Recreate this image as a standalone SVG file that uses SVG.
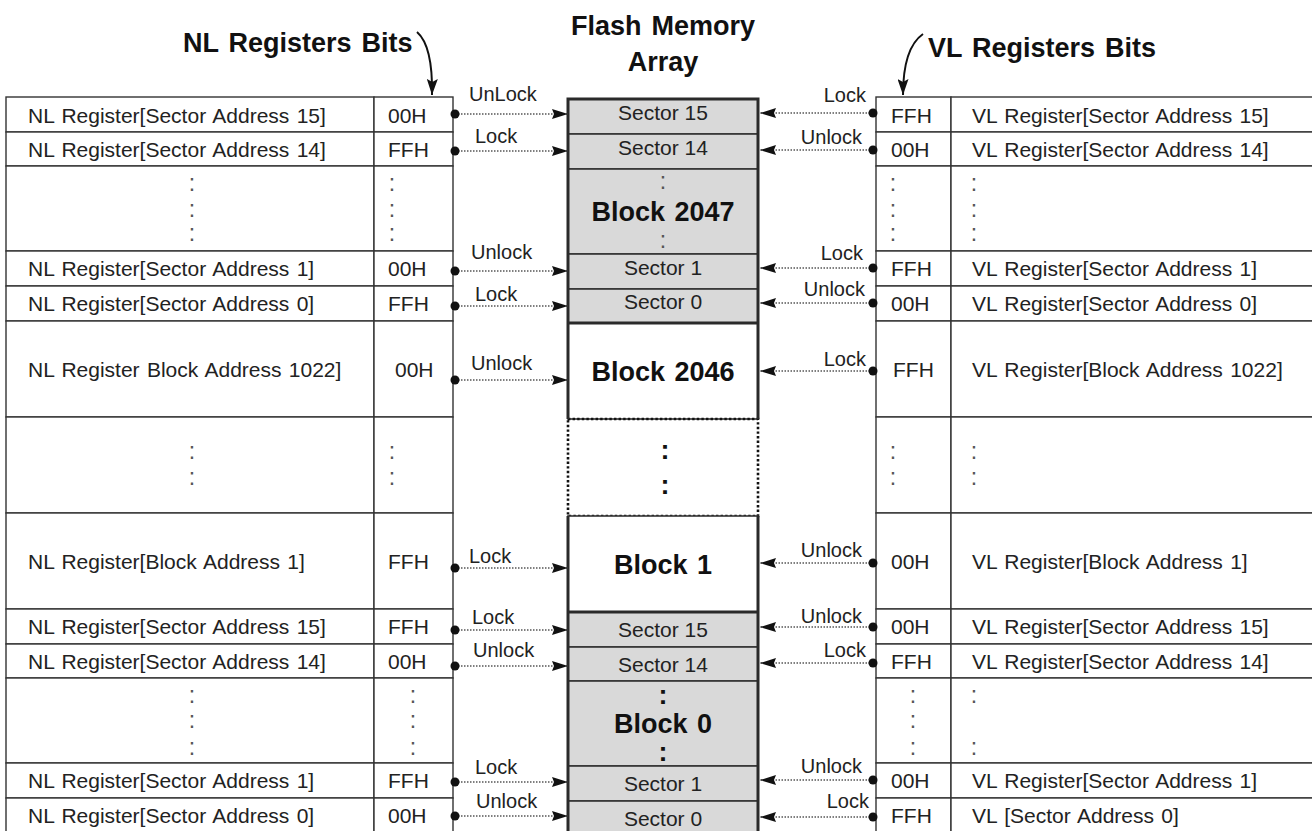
<svg xmlns="http://www.w3.org/2000/svg" width="1312" height="831" viewBox="0 0 1312 831">
<style>
  text { font-family: "Liberation Sans", Arial, Helvetica, sans-serif; fill: #222; }
  .reg { font-size: 21px; word-spacing: 1.5px; }
  .lbl { font-size: 20px; }
  .dots { font-size: 23px; fill: #555; text-anchor: middle; }
  .title { font-size: 27px; font-weight: bold; word-spacing: 2.5px; fill: #111; }
  .sec { font-size: 21px; text-anchor: middle; }
  .blk { font-size: 27px; font-weight: bold; text-anchor: middle; word-spacing: 2px; fill: #111; }
  .bdots { font-size: 27px; font-weight: bold; text-anchor: middle; fill: #111; }
  .cell { fill: #fff; stroke: #333; stroke-width: 1.4; }
  .gray { fill: #d9d9d9; stroke: #333; stroke-width: 1.6; }
  .white { fill: #fff; stroke: #333; stroke-width: 1.6; }
  .edge { fill: none; stroke: #2a2a2a; stroke-width: 3; }
  .dotted { fill: none; stroke: #111; stroke-width: 2.6; stroke-dasharray: 2.4 2.2; }
  .conn { fill: none; stroke: #555; stroke-width: 1.3; stroke-dasharray: 1.5 1.5; marker-start: url(#dot); marker-end: url(#arr); }
  .curve { fill: none; stroke: #111; stroke-width: 2; marker-end: url(#bigarr); }
</style>
<defs>
  <marker id="arr" markerUnits="userSpaceOnUse" viewBox="0 0 16 10" refX="16" refY="5" markerWidth="16" markerHeight="10" orient="auto">
    <path d="M0,0 L16,5 L0,10 L2,5 z" fill="#111"/>
  </marker>
  <marker id="dot" markerUnits="userSpaceOnUse" viewBox="0 0 10 10" refX="5" refY="5" markerWidth="10" markerHeight="10">
    <circle cx="5" cy="5" r="4.5" fill="#111"/>
  </marker>
  <marker id="bigarr" markerUnits="userSpaceOnUse" viewBox="0 0 16 11" refX="16" refY="5.5" markerWidth="16" markerHeight="11" orient="auto">
    <path d="M0,0 L16,5.5 L0,11 L3,5.5 z" fill="#111"/>
  </marker>
</defs>

<!-- Titles -->
<g id="title-nl">
  <text class="title" x="183" y="52">NL Registers Bits</text>
  <path class="curve" d="M417,32 Q433,46 432,95"/>
</g>
<g id="title-flash">
  <text class="title" x="663" y="35" text-anchor="middle" font-size="28">Flash Memory</text>
  <text class="title" x="663" y="71" text-anchor="middle" font-size="28">Array</text>
</g>
<g id="title-vl">
  <text class="title" x="928" y="57">VL Registers Bits</text>
  <path class="curve" d="M923,34 Q903,48 903,95"/>
</g>

<!-- Left table (NL registers) -->
<g id="nl-table">
  <g id="nl-r1"><rect class="cell" x="6" y="97" width="368" height="35"/><rect class="cell" x="374" y="97" width="79" height="35"/>
    <text class="reg" x="28" y="122.5">NL Register[Sector Address 15]</text><text class="reg" x="388" y="122.5">00H</text></g>
  <g id="nl-r2"><rect class="cell" x="6" y="132" width="368" height="34"/><rect class="cell" x="374" y="132" width="79" height="34"/>
    <text class="reg" x="28" y="156.5">NL Register[Sector Address 14]</text><text class="reg" x="388" y="156.5">FFH</text></g>
  <g id="nl-r3"><rect class="cell" x="6" y="166" width="368" height="85"/><rect class="cell" x="374" y="166" width="79" height="85"/>
    <text class="dots" x="192" y="191">:</text><text class="dots" x="192" y="217">:</text><text class="dots" x="192" y="241">:</text>
    <text class="dots" x="392" y="191">:</text><text class="dots" x="392" y="217">:</text><text class="dots" x="392" y="241">:</text></g>
  <g id="nl-r4"><rect class="cell" x="6" y="251" width="368" height="35"/><rect class="cell" x="374" y="251" width="79" height="35"/>
    <text class="reg" x="28" y="276">NL Register[Sector Address 1]</text><text class="reg" x="388" y="276">00H</text></g>
  <g id="nl-r5"><rect class="cell" x="6" y="286" width="368" height="35"/><rect class="cell" x="374" y="286" width="79" height="35"/>
    <text class="reg" x="28" y="310.5">NL Register[Sector Address 0]</text><text class="reg" x="388" y="310.5">FFH</text></g>
  <g id="nl-r6"><rect class="cell" x="6" y="321" width="368" height="96"/><rect class="cell" x="374" y="321" width="79" height="96"/>
    <text class="reg" x="28" y="377">NL Register Block Address 1022]</text><text class="reg" x="395" y="377">00H</text></g>
  <g id="nl-r7"><rect class="cell" x="6" y="417" width="368" height="96"/><rect class="cell" x="374" y="417" width="79" height="96"/>
    <text class="dots" x="192" y="459">:</text><text class="dots" x="192" y="485">:</text>
    <text class="dots" x="392" y="459">:</text><text class="dots" x="392" y="485">:</text></g>
  <g id="nl-r8"><rect class="cell" x="6" y="513" width="368" height="96"/><rect class="cell" x="374" y="513" width="79" height="96"/>
    <text class="reg" x="28" y="569">NL Register[Block Address 1]</text><text class="reg" x="388" y="569">FFH</text></g>
  <g id="nl-r9"><rect class="cell" x="6" y="609" width="368" height="35"/><rect class="cell" x="374" y="609" width="79" height="35"/>
    <text class="reg" x="28" y="634">NL Register[Sector Address 15]</text><text class="reg" x="388" y="634">FFH</text></g>
  <g id="nl-r10"><rect class="cell" x="6" y="644" width="368" height="34"/><rect class="cell" x="374" y="644" width="79" height="34"/>
    <text class="reg" x="28" y="668.5">NL Register[Sector Address 14]</text><text class="reg" x="388" y="668.5">00H</text></g>
  <g id="nl-r11"><rect class="cell" x="6" y="678" width="368" height="85"/><rect class="cell" x="374" y="678" width="79" height="85"/>
    <text class="dots" x="192" y="703">:</text><text class="dots" x="192" y="728">:</text><text class="dots" x="192" y="755">:</text>
    <text class="dots" x="413" y="703">:</text><text class="dots" x="413" y="728">:</text><text class="dots" x="413" y="755">:</text></g>
  <g id="nl-r12"><rect class="cell" x="6" y="763" width="368" height="35"/><rect class="cell" x="374" y="763" width="79" height="35"/>
    <text class="reg" x="28" y="788">NL Register[Sector Address 1]</text><text class="reg" x="388" y="788">FFH</text></g>
  <g id="nl-r13"><rect class="cell" x="6" y="798" width="368" height="40"/><rect class="cell" x="374" y="798" width="79" height="40"/>
    <text class="reg" x="28" y="822.5">NL Register[Sector Address 0]</text><text class="reg" x="388" y="822.5">00H</text></g>
</g>

<!-- Right table (VL registers) -->
<g id="vl-table">
  <g id="vl-r1"><rect class="cell" x="876" y="97" width="75" height="35"/><rect class="cell" x="951" y="97" width="370" height="35"/>
    <text class="reg" x="891" y="122.5">FFH</text><text class="reg" x="972" y="122.5">VL Register[Sector Address 15]</text></g>
  <g id="vl-r2"><rect class="cell" x="876" y="132" width="75" height="34"/><rect class="cell" x="951" y="132" width="370" height="34"/>
    <text class="reg" x="891" y="156.5">00H</text><text class="reg" x="972" y="156.5">VL Register[Sector Address 14]</text></g>
  <g id="vl-r3"><rect class="cell" x="876" y="166" width="75" height="85"/><rect class="cell" x="951" y="166" width="370" height="85"/>
    <text class="dots" x="893" y="191">:</text><text class="dots" x="893" y="217">:</text><text class="dots" x="893" y="241">:</text>
    <text class="dots" x="974" y="191">:</text><text class="dots" x="974" y="217">:</text><text class="dots" x="974" y="241">:</text></g>
  <g id="vl-r4"><rect class="cell" x="876" y="251" width="75" height="35"/><rect class="cell" x="951" y="251" width="370" height="35"/>
    <text class="reg" x="891" y="276">FFH</text><text class="reg" x="972" y="276">VL Register[Sector Address 1]</text></g>
  <g id="vl-r5"><rect class="cell" x="876" y="286" width="75" height="35"/><rect class="cell" x="951" y="286" width="370" height="35"/>
    <text class="reg" x="891" y="310.5">00H</text><text class="reg" x="972" y="310.5">VL Register[Sector Address 0]</text></g>
  <g id="vl-r6"><rect class="cell" x="876" y="321" width="75" height="96"/><rect class="cell" x="951" y="321" width="370" height="96"/>
    <text class="reg" x="893" y="377">FFH</text><text class="reg" x="972" y="377">VL Register[Block Address 1022]</text></g>
  <g id="vl-r7"><rect class="cell" x="876" y="417" width="75" height="96"/><rect class="cell" x="951" y="417" width="370" height="96"/>
    <text class="dots" x="893" y="459">:</text><text class="dots" x="893" y="485">:</text>
    <text class="dots" x="974" y="459">:</text><text class="dots" x="974" y="485">:</text></g>
  <g id="vl-r8"><rect class="cell" x="876" y="513" width="75" height="96"/><rect class="cell" x="951" y="513" width="370" height="96"/>
    <text class="reg" x="891" y="569">00H</text><text class="reg" x="972" y="569">VL Register[Block Address 1]</text></g>
  <g id="vl-r9"><rect class="cell" x="876" y="609" width="75" height="35"/><rect class="cell" x="951" y="609" width="370" height="35"/>
    <text class="reg" x="891" y="634">00H</text><text class="reg" x="972" y="634">VL Register[Sector Address 15]</text></g>
  <g id="vl-r10"><rect class="cell" x="876" y="644" width="75" height="34"/><rect class="cell" x="951" y="644" width="370" height="34"/>
    <text class="reg" x="891" y="668.5">FFH</text><text class="reg" x="972" y="668.5">VL Register[Sector Address 14]</text></g>
  <g id="vl-r11"><rect class="cell" x="876" y="678" width="75" height="85"/><rect class="cell" x="951" y="678" width="370" height="85"/>
    <text class="dots" x="913" y="703">:</text><text class="dots" x="913" y="728">:</text><text class="dots" x="913" y="755">:</text>
    <text class="dots" x="974" y="703">:</text><text class="dots" x="974" y="755">:</text></g>
  <g id="vl-r12"><rect class="cell" x="876" y="763" width="75" height="35"/><rect class="cell" x="951" y="763" width="370" height="35"/>
    <text class="reg" x="891" y="788">00H</text><text class="reg" x="972" y="788">VL Register[Sector Address 1]</text></g>
  <g id="vl-r13"><rect class="cell" x="876" y="798" width="75" height="40"/><rect class="cell" x="951" y="798" width="370" height="40"/>
    <text class="reg" x="891" y="822.5">FFH</text><text class="reg" x="972" y="822.5">VL [Sector Address 0]</text></g>
</g>

<!-- Flash memory array -->
<g id="flash-array">
  <g id="m-sector15-a"><rect class="gray" x="568" y="99" width="190" height="35"/><text class="sec" x="663" y="120">Sector 15</text></g>
  <g id="m-sector14-a"><rect class="gray" x="568" y="134" width="190" height="35"/><text class="sec" x="663" y="155">Sector 14</text></g>
  <g id="m-block2047"><rect class="gray" x="568" y="169" width="190" height="85"/>
    <text class="dots" x="663" y="189" font-size="21">:</text>
    <text class="blk" x="663" y="221">Block 2047</text>
    <text class="dots" x="663" y="248" font-size="21">:</text></g>
  <g id="m-sector1-a"><rect class="gray" x="568" y="254" width="190" height="35"/><text class="sec" x="663" y="275">Sector 1</text></g>
  <g id="m-sector0-a"><rect class="gray" x="568" y="289" width="190" height="34"/><text class="sec" x="663" y="308.5">Sector 0</text></g>
  <g id="m-block2046"><rect class="white" x="568" y="323" width="190" height="96"/><text class="blk" x="663" y="381">Block 2046</text></g>
  <g id="m-gap"><rect class="dotted" x="568" y="419" width="190" height="97"/>
    <text class="bdots" x="665" y="458.5">:</text><text class="bdots" x="665" y="493.5">:</text></g>
  <g id="m-block1"><rect class="white" x="568" y="516" width="190" height="96"/><text class="blk" x="663" y="574">Block 1</text></g>
  <g id="m-sector15-b"><rect class="gray" x="568" y="612" width="190" height="35"/><text class="sec" x="663" y="637">Sector 15</text></g>
  <g id="m-sector14-b"><rect class="gray" x="568" y="647" width="190" height="34"/><text class="sec" x="663" y="672">Sector 14</text></g>
  <g id="m-block0"><rect class="gray" x="568" y="681" width="190" height="85"/>
    <text class="bdots" x="663" y="703.5">:</text>
    <text class="blk" x="663" y="733">Block 0</text>
    <text class="bdots" x="663" y="760.5">:</text></g>
  <g id="m-sector1-b"><rect class="gray" x="568" y="766" width="190" height="35"/><text class="sec" x="663" y="791">Sector 1</text></g>
  <g id="m-sector0-b"><rect class="gray" x="568" y="801" width="190" height="40"/><text class="sec" x="663" y="826">Sector 0</text></g>
  <!-- thick outer edges -->
  <path class="edge" d="M568,419 L568,99 L758,99 L758,419"/>
  <path class="edge" d="M568,323 L758,323"/>
  <path class="edge" d="M568,840 L568,516 M758,516 L758,840"/>
  <path class="edge" d="M568,612 L758,612"/>
</g>

<!-- Connectors -->
<g id="connectors">
  <g id="nl-arrows">
    <line class="conn" x1="455" y1="114" x2="568" y2="114"/>
    <line class="conn" x1="455" y1="151" x2="568" y2="151"/>
    <line class="conn" x1="455" y1="271" x2="568" y2="271"/>
    <line class="conn" x1="455" y1="306" x2="568" y2="306"/>
    <line class="conn" x1="455" y1="380" x2="568" y2="380"/>
    <line class="conn" x1="455" y1="568" x2="568" y2="568"/>
    <line class="conn" x1="455" y1="630" x2="568" y2="630"/>
    <line class="conn" x1="455" y1="666" x2="568" y2="666"/>
    <line class="conn" x1="455" y1="782" x2="568" y2="782"/>
    <line class="conn" x1="455" y1="816" x2="568" y2="816"/>
    <text class="lbl" x="469" y="101">UnLock</text>
    <text class="lbl" x="475" y="143">Lock</text>
    <text class="lbl" x="471" y="259">Unlock</text>
    <text class="lbl" x="475" y="301">Lock</text>
    <text class="lbl" x="471" y="370">Unlock</text>
    <text class="lbl" x="469" y="563">Lock</text>
    <text class="lbl" x="472" y="624">Lock</text>
    <text class="lbl" x="473" y="657">Unlock</text>
    <text class="lbl" x="475" y="774">Lock</text>
    <text class="lbl" x="476" y="808">Unlock</text>
  </g>
  <g id="vl-arrows">
    <line class="conn" x1="873" y1="113" x2="760" y2="113"/>
    <line class="conn" x1="873" y1="150" x2="760" y2="150"/>
    <line class="conn" x1="873" y1="268" x2="760" y2="268"/>
    <line class="conn" x1="873" y1="303" x2="760" y2="303"/>
    <line class="conn" x1="873" y1="371" x2="760" y2="371"/>
    <line class="conn" x1="873" y1="563" x2="760" y2="563"/>
    <line class="conn" x1="873" y1="627" x2="760" y2="627"/>
    <line class="conn" x1="873" y1="663" x2="760" y2="663"/>
    <line class="conn" x1="873" y1="780" x2="760" y2="780"/>
    <line class="conn" x1="873" y1="817" x2="760" y2="817"/>
    <text class="lbl" x="866" y="102" text-anchor="end">Lock</text>
    <text class="lbl" x="862" y="144" text-anchor="end">Unlock</text>
    <text class="lbl" x="863" y="260" text-anchor="end">Lock</text>
    <text class="lbl" x="865" y="296" text-anchor="end">Unlock</text>
    <text class="lbl" x="866" y="366" text-anchor="end">Lock</text>
    <text class="lbl" x="862" y="557" text-anchor="end">Unlock</text>
    <text class="lbl" x="862" y="623" text-anchor="end">Unlock</text>
    <text class="lbl" x="866" y="657" text-anchor="end">Lock</text>
    <text class="lbl" x="862" y="773" text-anchor="end">Unlock</text>
    <text class="lbl" x="869" y="808" text-anchor="end">Lock</text>
  </g>
</g>
</svg>
